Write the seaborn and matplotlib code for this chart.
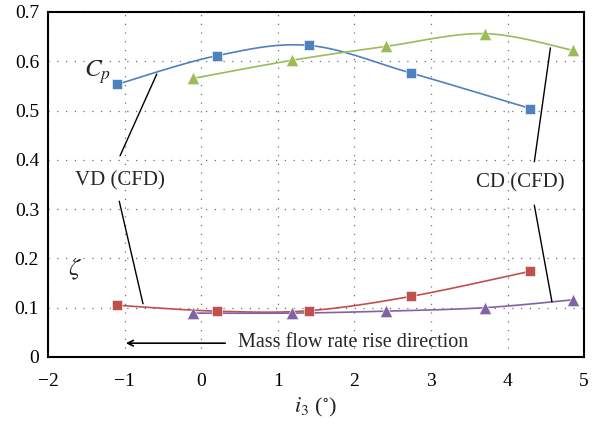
import matplotlib
matplotlib.use('Agg')
import matplotlib.pyplot as plt
import seaborn as sns
import numpy as np
import pandas as pd

# incidence angle i3 (deg)
vd_x = [-1.10, 0.20, 1.41, 2.74, 4.30]
cd_x = [-0.11, 1.19, 2.41, 3.70, 4.86]

# pressure coefficient Cp
vd_cp = [0.553, 0.611, 0.632, 0.576, 0.504]
cd_cp = [0.565, 0.602, 0.630, 0.656, 0.622]

# loss coefficient zeta
vd_zeta = [0.105, 0.093, 0.094, 0.123, 0.174]
cd_zeta = [0.089, 0.089, 0.093, 0.100, 0.116]

BLUE = '#4F81BD'
GREEN = '#9BBB59'
RED = '#C0504D'
PURPLE = '#8064A2'


def smooth(xs, ys, n=30):
    # Excel-style smoothed line (Catmull-Rom as cubic Bezier)
    p = np.column_stack([xs, ys]).astype(float)
    p = np.vstack([p[0], p, p[-1]])
    out = []
    t = np.linspace(0, 1, n)[:, None]
    for i in range(1, len(p) - 2):
        p0, p1, p2, p3 = p[i - 1], p[i], p[i + 1], p[i + 2]
        c1 = p1 + (p2 - p0) / 6
        c2 = p2 - (p3 - p1) / 6
        seg = ((1 - t) ** 3) * p1 + 3 * ((1 - t) ** 2) * t * c1 + 3 * (1 - t) * t ** 2 * c2 + t ** 3 * p2
        out.append(seg)
    out = np.vstack(out)
    return out[:, 0], out[:, 1]


sns.set_style('white')
plt.rcParams['font.family'] = ['Liberation Serif', 'DejaVu Serif']
plt.rcParams['mathtext.fontset'] = 'stix'

fig = plt.figure(figsize=(5.93, 4.26), dpi=100)
ax = fig.add_axes([0.081, 0.162, 0.904, 0.81])

series = [
    (vd_x, vd_cp, BLUE, 's', 60),
    (cd_x, cd_cp, GREEN, '^', 80),
    (vd_x, vd_zeta, RED, 's', 60),
    (cd_x, cd_zeta, PURPLE, '^', 80),
]
for xs, ys, col, mk, sz in series:
    sx, sy = smooth(xs, ys)
    ax.plot(sx, sy, color=col, lw=1.2, zorder=2)
    df = pd.DataFrame({'x': xs, 'y': ys})
    sns.scatterplot(data=df, x='x', y='y', ax=ax, color=col, marker=mk,
                    s=sz, edgecolor='white', linewidth=0.4, zorder=3)

ax.set_xlim(-2, 5)
ax.set_ylim(0, 0.7)
ax.set_xticks(range(-2, 6))
ax.set_xticklabels(['\u22122', '\u22121', '0', '1', '2', '3', '4', '5'])
ax.set_yticks(np.arange(0, 0.71, 0.1))
ax.set_yticklabels(['0', '0.1', '0.2', '0.3', '0.4', '0.5', '0.6', '0.7'])
ax.grid(True, color='#707070', linestyle=(0, (1, 6)), linewidth=0.9)
ax.tick_params(direction='inout', length=7, width=1, labelsize=14, colors='black')
ax.tick_params(axis='x', pad=8)
ax.tick_params(axis='y', pad=3)
for sp in ax.spines.values():
    sp.set_color('black')
    sp.set_linewidth(1.5)

ax.set_xlabel(r'$i_3$ ($^{\circ}$)', fontsize=16, labelpad=4)
ax.set_ylabel('')

# annotations
ax.text(-1.36, 0.578, r'$C_p$', fontsize=18, ha='center', va='center')
ax.text(-1.65, 0.178, r'$\zeta$', fontsize=18, ha='center', va='center')
ax.text(-1.06, 0.357, 'VD (CFD)', fontsize=15, ha='center', va='center')
ax.text(4.17, 0.353, 'CD (CFD)', fontsize=15, ha='center', va='center')
ax.plot([-1.06, -0.58], [0.408, 0.574], color='black', lw=1)
ax.plot([-1.07, -0.76], [0.316, 0.108], color='black', lw=1)
ax.plot([4.35, 4.56], [0.396, 0.627], color='black', lw=1)
ax.plot([4.35, 4.58], [0.308, 0.112], color='black', lw=1)
ax.annotate('', xy=(-1.02, 0.028), xytext=(0.35, 0.028),
            arrowprops=dict(arrowstyle='->', color='black', lw=1.2))
ax.text(0.48, 0.029, 'Mass flow rate rise direction', fontsize=14.5,
        ha='left', va='center')

fig.savefig('out.png', dpi=100)
